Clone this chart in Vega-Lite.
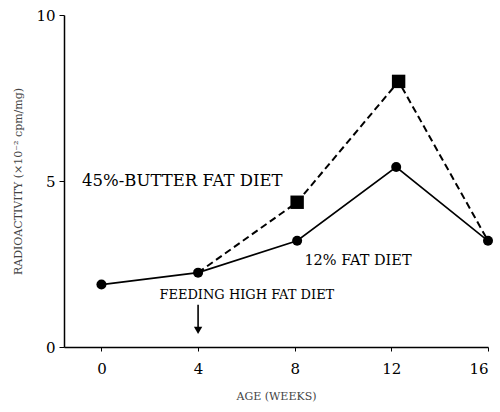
{
  "$schema": "https://vega.github.io/schema/vega-lite/v6.json",
  "width": 424,
  "height": 332,
  "autosize": {"type": "none"},
  "padding": {"left": 64, "top": 15, "right": 12, "bottom": 65},
  "background": "white",
  "config": {
    "view": {"stroke": null},
    "font": "DejaVu Serif",
    "axis": {"domainColor": "black", "tickColor": "black", "labelColor": "black", "titleColor": "#444", "grid": false, "labelFont": "DejaVu Serif", "titleFont": "DejaVu Serif"}
  },
  "datasets": {
    "pts": [
      {"series": "12% FAT DIET", "age": 0, "value": 1.88},
      {"series": "12% FAT DIET", "age": 4, "value": 2.24},
      {"series": "12% FAT DIET", "age": 8.1, "value": 3.2},
      {"series": "12% FAT DIET", "age": 12.2, "value": 5.42},
      {"series": "12% FAT DIET", "age": 16, "value": 3.2},
      {"series": "45%-BUTTER FAT DIET", "age": 4, "value": 2.24},
      {"series": "45%-BUTTER FAT DIET", "age": 8.1, "value": 4.36},
      {"series": "45%-BUTTER FAT DIET", "age": 12.3, "value": 8.0},
      {"series": "45%-BUTTER FAT DIET", "age": 16, "value": 3.2}
    ],
    "labels": [
      {"text": "45%-BUTTER FAT DIET", "age": -0.8, "value": 5.0, "size": 16.5},
      {"text": "12% FAT DIET", "age": 8.4, "value": 2.6, "size": 14.5},
      {"text": "FEEDING HIGH FAT DIET", "age": 2.4, "value": 1.58, "size": 13}
    ],
    "arrow": [
      {"age": 4, "y1": 1.27, "y2": 0.5}
    ]
  },
  "layer": [
    {
      "data": {"name": "pts"},
      "transform": [{"filter": "datum.series === '45%-BUTTER FAT DIET'"}],
      "mark": {"type": "line", "color": "black", "strokeWidth": 2, "strokeDash": [7, 4]},
      "encoding": {
        "x": {"field": "age", "type": "quantitative", "scale": {"domain": [-1.55, 16], "nice": false, "zero": false},
          "axis": {"values": [0, 4, 8, 12, 16], "title": "AGE (WEEKS)", "titleFontSize": 11, "titleFontWeight": "normal", "labelFontSize": 15, "labelPadding": 10, "tickSize": 4, "titlePadding": 14, "domainWidth": 1.5}},
        "y": {"field": "value", "type": "quantitative", "scale": {"domain": [0, 10], "nice": false},
          "axis": {"values": [0, 5, 10], "title": "RADIOACTIVITY (×10⁻² cpm/mg)", "titleFontSize": 11, "titleFontWeight": "normal", "labelFontSize": 15, "labelPadding": 4, "tickSize": 5, "titlePadding": 12, "domainWidth": 1.5}}
      }
    },
    {
      "data": {"name": "pts"},
      "transform": [{"filter": "datum.series === '12% FAT DIET'"}],
      "mark": {"type": "line", "color": "black", "strokeWidth": 1.6},
      "encoding": {
        "x": {"field": "age", "type": "quantitative"},
        "y": {"field": "value", "type": "quantitative"}
      }
    },
    {
      "data": {"name": "pts"},
      "transform": [{"filter": "datum.series === '45%-BUTTER FAT DIET' && datum.age > 5 && datum.age < 15"}],
      "mark": {"type": "point", "shape": "square", "filled": true, "color": "black", "opacity": 1, "size": 180},
      "encoding": {
        "x": {"field": "age", "type": "quantitative"},
        "y": {"field": "value", "type": "quantitative"}
      }
    },
    {
      "data": {"name": "pts"},
      "transform": [{"filter": "datum.series === '12% FAT DIET'"}],
      "mark": {"type": "point", "shape": "circle", "filled": true, "color": "black", "opacity": 1, "size": 100},
      "encoding": {
        "x": {"field": "age", "type": "quantitative"},
        "y": {"field": "value", "type": "quantitative"}
      }
    },
    {
      "data": {"name": "arrow"},
      "mark": {"type": "rule", "color": "black", "strokeWidth": 1.6},
      "encoding": {
        "x": {"field": "age", "type": "quantitative"},
        "y": {"field": "y1", "type": "quantitative"},
        "y2": {"field": "y2"}
      }
    },
    {
      "data": {"name": "arrow"},
      "mark": {"type": "point", "shape": "triangle-down", "filled": true, "color": "black", "opacity": 1, "size": 70},
      "encoding": {
        "x": {"field": "age", "type": "quantitative"},
        "y": {"field": "y2", "type": "quantitative"}
      }
    },
    {
      "data": {"name": "labels"},
      "mark": {"type": "text", "align": "left", "baseline": "middle", "color": "black", "font": "DejaVu Serif"},
      "encoding": {
        "x": {"field": "age", "type": "quantitative"},
        "y": {"field": "value", "type": "quantitative"},
        "text": {"field": "text"},
        "size": {"field": "size", "type": "quantitative", "scale": null}
      }
    }
  ]
}
